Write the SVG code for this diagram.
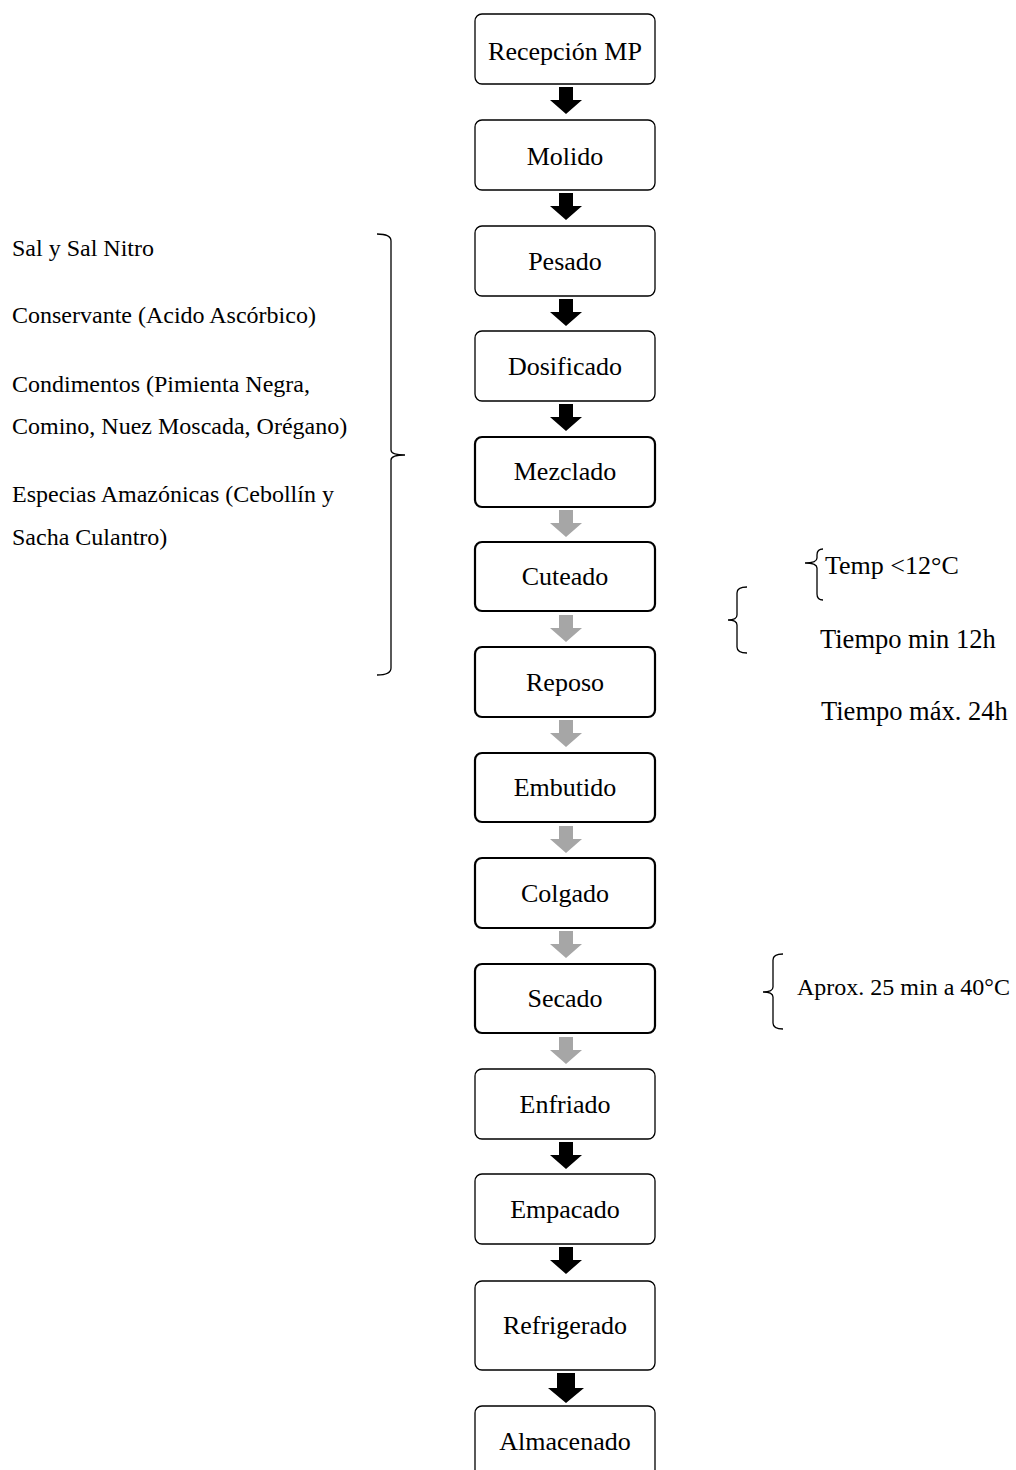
<svg xmlns="http://www.w3.org/2000/svg" width="1016" height="1470" viewBox="0 0 1016 1470">
<style>
text{font-family:"Liberation Serif","Times New Roman",serif;fill:#000}
.bt{font-size:26px;text-anchor:middle}
.lt{font-size:24px}
.rt{font-size:26.5px}
.box{fill:#fff;stroke:#000;stroke-width:1.3}
.thick{stroke-width:2.2}
.br{fill:none;stroke:#000;stroke-width:1.3}
.ab{fill:#000}
.ag{fill:#a6a6a6}
</style>
<defs>
<path id="arr" d="M-7,0 H7 V13 H16 L0,27 L-16,13 H-7 Z"/>
</defs>
<rect width="1016" height="1470" fill="#fff"/>
<g id="connectors">
<use href="#arr" x="566" y="87" class="ab"/>
<use href="#arr" x="566" y="193" class="ab"/>
<use href="#arr" x="566" y="299" class="ab"/>
<use href="#arr" x="566" y="404" class="ab"/>
<use href="#arr" x="566" y="510" class="ag"/>
<use href="#arr" x="566" y="615" class="ag"/>
<use href="#arr" x="566" y="720" class="ag"/>
<use href="#arr" x="566" y="826" class="ag"/>
<use href="#arr" x="566" y="931" class="ag"/>
<use href="#arr" x="566" y="1037" class="ag"/>
<use href="#arr" x="566" y="1142" class="ab"/>
<use href="#arr" x="566" y="1247" class="ab"/>
<path class="ab" d="M557,1373 H575 V1388 H584 L566,1403 L548,1388 H557 Z"/>
</g>
<g id="n1"><rect class="box" x="475" y="14" width="180" height="70" rx="7"/><text class="bt" x="565" y="60">Recepción MP</text></g>
<g id="n2"><rect class="box" x="475" y="120" width="180" height="70" rx="7"/><text class="bt" x="565" y="165">Molido</text></g>
<g id="n3"><rect class="box" x="475" y="226" width="180" height="70" rx="7"/><text class="bt" x="565" y="270">Pesado</text></g>
<g id="n4"><rect class="box" x="475" y="331" width="180" height="70" rx="7"/><text class="bt" x="565" y="375">Dosificado</text></g>
<g id="n5"><rect class="box thick" x="475" y="437" width="180" height="70" rx="7"/><text class="bt" x="565" y="480">Mezclado</text></g>
<g id="n6"><rect class="box thick" x="475" y="542" width="180" height="69" rx="7"/><text class="bt" x="565" y="585">Cuteado</text></g>
<g id="n7"><rect class="box thick" x="475" y="647" width="180" height="70" rx="7"/><text class="bt" x="565" y="691">Reposo</text></g>
<g id="n8"><rect class="box thick" x="475" y="753" width="180" height="69" rx="7"/><text class="bt" x="565" y="796">Embutido</text></g>
<g id="n9"><rect class="box thick" x="475" y="858" width="180" height="70" rx="7"/><text class="bt" x="565" y="902">Colgado</text></g>
<g id="n10"><rect class="box thick" x="475" y="964" width="180" height="69" rx="7"/><text class="bt" x="565" y="1007">Secado</text></g>
<g id="n11"><rect class="box" x="475" y="1069" width="180" height="70" rx="7"/><text class="bt" x="565" y="1113">Enfriado</text></g>
<g id="n12"><rect class="box" x="475" y="1174" width="180" height="70" rx="7"/><text class="bt" x="565" y="1218">Empacado</text></g>
<g id="n13"><rect class="box" x="475" y="1281" width="180" height="89" rx="7"/><text class="bt" x="565" y="1334">Refrigerado</text></g>
<g id="n14"><rect class="box" x="475" y="1406" width="180" height="80" rx="7"/><text class="bt" x="565" y="1450">Almacenado</text></g>
<g id="ingredients">
<text class="lt" x="12" y="256">Sal y Sal Nitro</text>
<text class="lt" x="12" y="323">Conservante (Acido Ascórbico)</text>
<text class="lt" x="12" y="392">Condimentos (Pimienta Negra,</text>
<text class="lt" x="12" y="434">Comino, Nuez Moscada, Orégano)</text>
<text class="lt" x="12" y="502">Especias Amazónicas (Cebollín y</text>
<text class="lt" x="12" y="545">Sacha Culantro)</text>
<path class="br" d="M377,234 Q391,234 391,241 V450 Q391,455 405,455 Q391,455 391,460 V668 Q391,675 377,675"/>
</g>
<g id="notes">
<path class="br" d="M823,549 Q817,549 817,555 V558 Q817,563 805,563 Q817,563 817,568 V594 Q817,600 823,600"/>
<path class="br" d="M747,587 Q737,587 737,593 V615 Q737,620 728,620 Q737,620 737,625 V647 Q737,653 747,653"/>
<text x="825" y="574" style="font-size:26px">Temp &lt;12°C</text>
<text class="rt" x="820" y="648">Tiempo min 12h</text>
<text class="rt" x="821" y="720">Tiempo máx. 24h</text>
<path class="br" d="M783,954 Q773,954 773,960 V987 Q773,992 763,992 Q773,992 773,997 V1023 Q773,1029 783,1029"/>
<text x="797" y="995" style="font-size:24px">Aprox. 25 min a 40°C</text>
</g>
</svg>
